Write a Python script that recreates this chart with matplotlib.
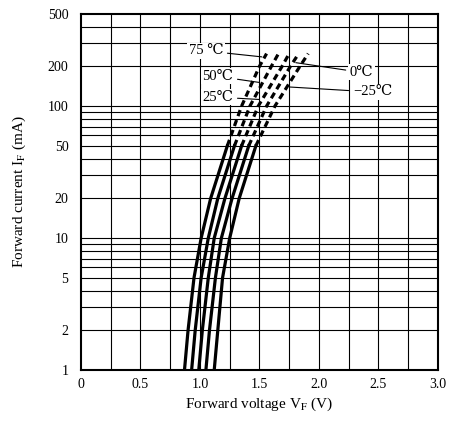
import numpy as np
import matplotlib
matplotlib.use("Agg")
import matplotlib.pyplot as plt

plt.rcParams['font.family'] = ['Liberation Serif', 'DejaVu Serif']
plt.rcParams['mathtext.fontset'] = 'stix'

# forward current (mA) where the curves were read
current = [1, 2, 5, 10, 20, 50, 100, 200, 250]
# forward voltage (V) for each ambient temperature
vf_75 = [0.87, 0.90, 0.95, 1.01, 1.09, 1.23, 1.35, 1.50, 1.56]
vf_50 = [0.93, 0.96, 1.01, 1.07, 1.15, 1.29, 1.42, 1.60, 1.66]
vf_25 = [0.99, 1.02, 1.07, 1.12, 1.21, 1.35, 1.49, 1.69, 1.75]
vf_0 = [1.05, 1.08, 1.13, 1.18, 1.27, 1.41, 1.56, 1.76, 1.83]
vf_m25 = [1.12, 1.15, 1.19, 1.25, 1.33, 1.47, 1.63, 1.84, 1.91]
labels = ["75 \u2103", "50\u2103", "25\u2103", "0\u2103", "\u221225\u2103"]
ytick_vals = [1, 2, 5, 10, 20, 50, 100, 200, 500]
xtick_vals = [0, 0.5, 1.0, 1.5, 2.0, 2.5, 3.0]

fig = plt.figure(figsize=(4.5, 4.21), dpi=100)
ax = fig.add_axes([0.18, 0.121, 0.793, 0.846])
ax.set_yscale("log")
ax.set_xlim(0, 3.0)
ax.set_ylim(1, 500)

# grid: every 0.25 V and 1..9 per decade
for v in np.arange(0.25, 3.0, 0.25):
    ax.axvline(v, color="black", lw=0.8, zorder=1)
for dec in [1, 10, 100]:
    for m in range(1, 10):
        y = dec * m
        if 1 < y < 500:
            ax.axhline(y, color="black", lw=0.8, zorder=1)

split = 5  # index of 50 mA: solid below, dashed above
for vf in [vf_75, vf_50, vf_25, vf_0, vf_m25]:
    ax.plot(vf[:split + 1], current[:split + 1], color="black", lw=2.3,
            solid_joinstyle="round", zorder=3)
    ax.plot(vf[split:], current[split:], color="black", lw=2.3,
            ls=(0, (2.0, 1.3)), zorder=3)

def on_curve(vf, i):
    return np.interp(np.log10(i), np.log10(current), vf)

kw = dict(fontsize=10.5, color="black",
          arrowprops=dict(arrowstyle="-", color="black", lw=0.8),
          bbox=dict(boxstyle="square,pad=0.1", fc="white", ec="none"))
ax.annotate(labels[0], xy=(on_curve(vf_75, 235), 235), xytext=(1.05, 262),
            ha="center", va="center", **kw)
ax.annotate(labels[1], xy=(on_curve(vf_50, 150), 150), xytext=(1.15, 168),
            ha="center", va="center", **kw)
ax.annotate(labels[2], xy=(on_curve(vf_25, 112), 112), xytext=(1.15, 117),
            ha="center", va="center", **kw)
ax.annotate(labels[3], xy=(on_curve(vf_0, 215), 215), xytext=(2.36, 180),
            ha="center", va="center", **kw)
ax.annotate(labels[4], xy=(on_curve(vf_m25, 140), 140), xytext=(2.45, 128),
            ha="center", va="center", **kw)

ax.set_yticks(ytick_vals)
ax.set_yticklabels([str(v) for v in ytick_vals])
ax.yaxis.set_minor_locator(matplotlib.ticker.NullLocator())
ax.set_xticks(xtick_vals)
ax.set_xticklabels(["0", "0.5", "1.0", "1.5", "2.0", "2.5", "3.0"])
ax.tick_params(axis="y", length=0, labelsize=10, pad=9)
ax.tick_params(axis="x", length=0, labelsize=10, pad=6)
for s in ax.spines.values():
    s.set_linewidth(1.5)

ax.set_xlabel(r"Forward voltage V$_{\rm F}$ (V)", fontsize=11, labelpad=3)
ax.set_ylabel(r"Forward current I$_{\rm F}$ (mA)", fontsize=11, labelpad=14)

fig.savefig("out.png", dpi=100)
